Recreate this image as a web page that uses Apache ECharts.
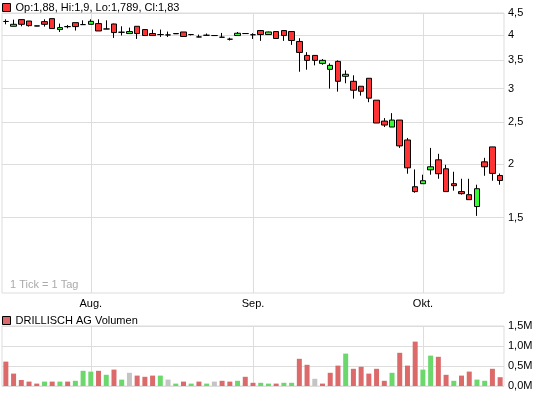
<!doctype html>
<meta charset="utf-8">
<style>
  html, body { margin: 0; padding: 0; width: 100%; height: 100%; background: #fff; }
  #chart { width: 545px; height: 397px; }
</style>
<script src="https://cdn.jsdelivr.net/npm/echarts@6/dist/echarts.min.js"></script>

<div id="chart"></div>

<script>
  // trading days 17.07.2008 - 15.10.2008
  const dates = [
    '17.07.', '18.07.', '21.07.', '22.07.', '23.07.', '24.07.', '25.07.', '28.07.', '29.07.', '30.07.', '31.07.',
    '01.08.', '04.08.', '05.08.', '06.08.', '07.08.', '08.08.', '11.08.', '12.08.', '13.08.', '14.08.', '15.08.',
    '18.08.', '19.08.', '20.08.', '21.08.', '22.08.', '25.08.', '26.08.', '27.08.', '28.08.', '29.08.',
    '01.09.', '02.09.', '03.09.', '04.09.', '05.09.', '08.09.', '09.09.', '10.09.', '11.09.', '12.09.', '15.09.',
    '16.09.', '17.09.', '18.09.', '19.09.', '22.09.', '23.09.', '24.09.', '25.09.', '26.09.', '29.09.', '30.09.',
    '01.10.', '02.10.', '03.10.', '06.10.', '07.10.', '08.10.', '09.10.', '10.10.', '13.10.', '14.10.', '15.10.'
  ];
  const monthIdx = [11, 32, 54];
  const monthNames = ['Aug.', 'Sep.', 'Okt.'];
  const priceTicks = [1.5, 2, 2.5, 3, 3.5, 4, 4.5];

  const opens = [
    4.30, 4.19, 4.343, 4.31, 4.20, 4.296, 4.366, 4.117, 4.18, 4.273, 4.228,
    4.235, 4.251, 4.13, 4.242, 4.058, 4.03, 4.19, 4.117, 4.03, 4.008, 4.0,
    4.03, 4.064, 4.008, 3.957, 3.993, 3.987, 3.951, 3.909, 3.987, 4.03,
    4.004, 4.095, 4.008, 4.073, 4.095, 4.073, 3.862, 3.583, 3.583, 3.433, 3.325,
    3.47, 3.203, 3.118, 3.036, 3.169, 2.817, 2.518, 2.439, 2.532, 2.275, 1.77,
    1.799, 1.938, 2.045, 1.949, 1.799, 1.724, 1.696, 1.591, 2.023, 2.192, 1.88
  ];
  const closes = [
    4.30, 4.235, 4.235, 4.205, 4.195, 4.235, 4.139, 4.161, 4.185, 4.183, 4.228,
    4.303, 4.086, 4.13, 4.051, 4.058, 4.073, 4.03, 3.987, 3.987, 4.008, 4.0,
    4.025, 3.966, 4.008, 3.957, 3.993, 3.987, 3.951, 3.909, 4.036, 4.03,
    4.004, 4.008, 4.064, 3.924, 3.987, 3.882, 3.641, 3.489, 3.489, 3.489, 3.397,
    3.118, 3.237, 2.972, 2.956, 2.848, 2.492, 2.465, 2.532, 2.204, 1.959, 1.724,
    1.828, 1.97, 1.898, 1.724, 1.78, 1.705, 1.651, 1.751, 1.97, 1.901, 1.83
  ];
  const lows = [
    4.235, 4.19, 4.19, 4.183, 4.19, 4.183, 4.139, 4.064, 4.145, 4.095, 4.22,
    4.235, 4.086, 4.125, 3.936, 3.987, 4.03, 3.915, 3.987, 3.987, 3.957, 3.957,
    4.02, 3.966, 3.99, 3.95, 3.99, 3.985, 3.95, 3.882, 3.987, 4.025,
    3.915, 3.874, 4.0, 3.924, 3.874, 3.792, 3.282, 3.318, 3.397, 3.408, 2.998,
    2.95, 3.085, 2.841, 2.887, 2.787, 2.492, 2.439, 2.439, 2.18, 1.898, 1.714,
    1.799, 1.888, 1.847, 1.724, 1.733, 1.696, 1.651, 1.513, 1.877, 1.828, 1.789
  ];
  const highs = [
    4.35, 4.343, 4.343, 4.31, 4.20, 4.35, 4.366, 4.251, 4.22, 4.273, 4.326,
    4.35, 4.35, 4.326, 4.25, 4.19, 4.161, 4.19, 4.117, 4.117, 4.117, 4.073,
    4.035, 4.064, 4.02, 4.008, 4.03, 3.99, 4.043, 3.94, 4.064, 4.035,
    4.036, 4.10, 4.07, 4.073, 4.095, 4.073, 3.93, 3.647, 3.583, 3.513, 3.433,
    3.489, 3.307, 3.22, 3.036, 3.169, 2.817, 2.559, 2.628, 2.532, 2.30, 1.942,
    1.888, 2.18, 2.112, 1.991, 1.918, 1.847, 1.847, 1.789, 2.067, 2.192, 1.90
  ];

  // volume in millions, direction u = up, d = down, n = unchanged
  const volumes = [
    0.61, 0.31, 0.15, 0.11, 0.06, 0.11, 0.11, 0.11, 0.11, 0.13, 0.38,
    0.36, 0.38, 0.28, 0.41, 0.16, 0.33, 0.26, 0.23, 0.26, 0.26, 0.16,
    0.06, 0.11, 0.06, 0.11, 0.06, 0.11, 0.13, 0.11, 0.13, 0.23,
    0.08, 0.08, 0.06, 0.06, 0.08, 0.08, 0.68, 0.53, 0.18, 0.06, 0.33,
    0.51, 0.81, 0.43, 0.48, 0.31, 0.43, 0.13, 0.33, 0.83, 0.51, 1.11,
    0.41, 0.76, 0.73, 0.28, 0.13, 0.26, 0.36, 0.16, 0.13, 0.43, 0.22
  ];
  const volDir = [
    'd', 'd', 'd', 'd', 'd', 'u', 'd', 'u', 'd', 'u', 'u',
    'u', 'd', 'u', 'd', 'u', 'n', 'd', 'd', 'd', 'u', 'n',
    'u', 'd', 'u', 'd', 'u', 'n', 'd', 'd', 'u', 'd',
    'd', 'u', 'u', 'd', 'u', 'u', 'd', 'd', 'n', 'd', 'd',
    'd', 'u', 'd', 'd', 'd', 'd', 'd', 'u', 'd', 'd', 'd',
    'u', 'u', 'd', 'd', 'u', 'd', 'd', 'u', 'u', 'd', 'd'
  ];

  const FONT = '"Liberation Sans", Arial, sans-serif';
  const GRID = '#dddddd';
  const volColors = { u: '#6bd86b', d: '#dc6a6a', n: '#c4c4c4' };
  const comma = v => String(v).replace('.', ',');
  const isMonth = i => monthIdx.indexOf(i) >= 0;

  const last = opens.length - 1;
  const priceName = 'Op:' + comma(opens[last]) + ', Hi:' + comma(highs[last]) +
    ', Lo:' + comma(lows[last]) + ', Cl:' + comma(closes[last]);
  const volName = 'DRILLISCH AG Volumen';

  let chart = echarts.init(document.getElementById('chart'), null, { renderer: 'canvas' });

  chart.setOption({
    animation: false,
    textStyle: { fontFamily: FONT },
    legend: [
      {
        left: 2, top: 2, padding: 0, itemWidth: 8, itemHeight: 8, selectedMode: false,
        textStyle: { fontSize: 11, color: '#000', fontFamily: FONT },
        data: [{ name: priceName, icon: 'rect', itemStyle: { color: '#ff3333', borderColor: '#000', borderWidth: 1 } }]
      },
      {
        left: 2, top: 315, padding: 0, itemWidth: 8, itemHeight: 8, selectedMode: false,
        textStyle: { fontSize: 11, color: '#000', fontFamily: FONT },
        data: [{ name: volName, icon: 'rect', itemStyle: { color: '#dc6a6a', borderColor: '#000', borderWidth: 1 } }]
      }
    ],
    graphic: [{
      type: 'text', left: 10, top: 279,
      style: { text: '1 Tick = 1 Tag', fill: '#aaaaaa', font: '11px ' + FONT }
    }],
    grid: [
      { left: 2, top: 13, width: 502, height: 280, show: true, borderColor: GRID, borderWidth: 1 },
      { left: 2, top: 326, width: 502, height: 60, show: true, borderColor: GRID, borderWidth: 1 }
    ],
    xAxis: [0, 1].map(g => ({
      type: 'category',
      gridIndex: g,
      data: dates,
      boundaryGap: true,
      axisLine: { show: false },
      axisTick: { show: false },
      axisLabel: {
        show: g === 0,
        interval: i => isMonth(i),
        formatter: (v, i) => monthNames[monthIdx.indexOf(i)],
        color: '#000', fontSize: 11, margin: 5, fontFamily: FONT
      },
      splitLine: {
        show: true,
        interval: i => isMonth(i),
        alignWithLabel: true,
        lineStyle: { color: GRID, width: 1 }
      }
    })),
    yAxis: [
      {
        type: 'log',
        logBase: 10,
        gridIndex: 0,
        position: 'right',
        min: 1,
        max: 4.5,
        axisLine: { show: false },
        axisTick: { show: false, customValues: priceTicks },
        axisLabel: {
          customValues: priceTicks,
          formatter: v => comma(v),
          color: '#000', fontSize: 11, margin: 4, fontFamily: FONT
        },
        splitLine: { show: true, lineStyle: { color: GRID, width: 1 } }
      },
      {
        type: 'value',
        gridIndex: 1,
        position: 'right',
        min: 0,
        max: 1.5,
        interval: 0.5,
        axisLine: { show: false },
        axisTick: { show: false },
        axisLabel: {
          formatter: v => comma(v.toFixed(1)) + 'M',
          color: '#000', fontSize: 11, margin: 4, fontFamily: FONT
        },
        splitLine: { show: true, lineStyle: { color: GRID, width: 1 } }
      }
    ],
    series: [
      {
        name: priceName,
        type: 'candlestick',
        xAxisIndex: 0,
        yAxisIndex: 0,
        barWidth: 6,
        data: opens.map((o, i) => [o, closes[i], lows[i], highs[i]]),
        itemStyle: {
          color: '#33ff33',
          color0: '#ff3333',
          borderColor: '#000',
          borderColor0: '#000',
          borderColorDoji: '#000',
          borderWidth: 1
        }
      },
      {
        name: volName,
        type: 'bar',
        xAxisIndex: 1,
        yAxisIndex: 1,
        barWidth: 5,
        data: volumes.map((v, i) => ({ value: v, itemStyle: { color: volColors[volDir[i]] } }))
      }
    ]
  });
</script>
